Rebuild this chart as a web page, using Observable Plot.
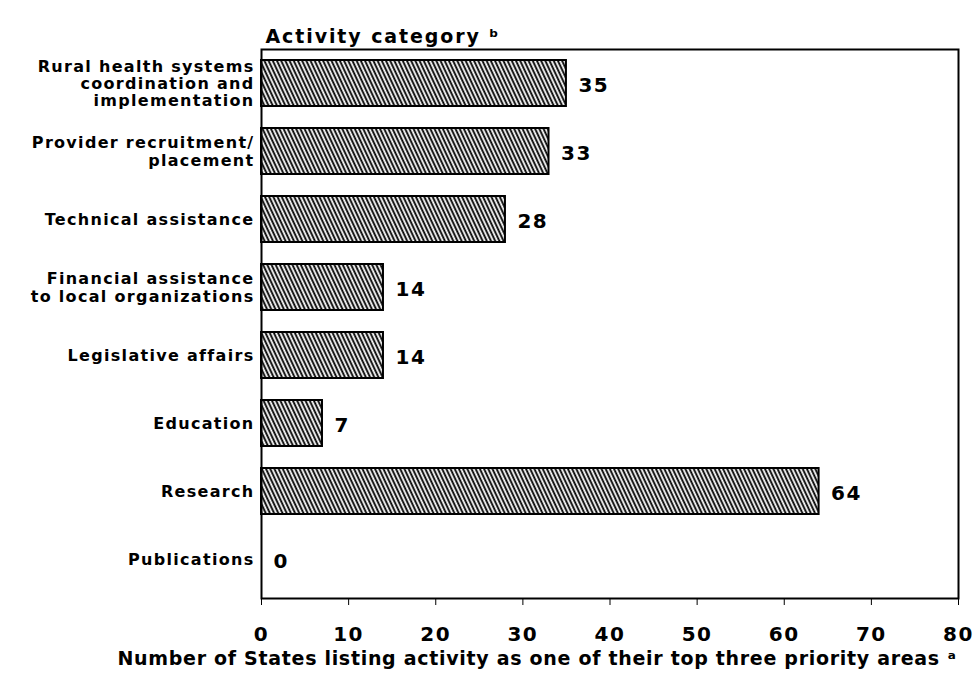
<!DOCTYPE html>
<html>
<head>
<meta charset="utf-8">
<script src="https://cdn.jsdelivr.net/npm/d3@7"></script>
<script src="https://cdn.jsdelivr.net/npm/@observablehq/plot@0.6"></script>
<style>
  body { margin: 0; background: #fff; }
</style>
</head>
<body>
<div id="chart"></div>
<script>
const categories = [
  "Rural health systems\ncoordination and\nimplementation",
  "Provider recruitment/\nplacement",
  "Technical assistance",
  "Financial assistance\nto local organizations",
  "Legislative affairs",
  "Education",
  "Research",
  "Publications"
];
const values = [35, 33, 28, 14, 14, 7, 64, 0];
const xTicks = [0, 10, 20, 30, 40, 50, 60, 70, 80];
const titleText = "Activity category ᵇ";
const xLabelText = "Number of States listing activity as one of their top three priority areas ᵃ";

const data = categories.map((c, i) => ({category: c, value: values[i]}));

const chart = Plot.plot({
  width: 975,
  height: 687,
  marginLeft: 261,
  marginRight: 17,
  marginTop: 49,
  marginBottom: 89,
  style: {fontFamily: "DejaVu Sans, sans-serif", fontWeight: "bold", color: "#000", background: "#fff"},
  x: {domain: [0, 80], ticks: xTicks, label: null},
  y: {domain: categories, range: [48, 593], paddingInner: 0.327, paddingOuter: 0.15, label: null, axis: null},
  marks: [
    Plot.barX(data, {y: "category", x: "value", fill: "white", stroke: "black", strokeWidth: 2}),
    Plot.frame({stroke: "black", strokeWidth: 2}),
    Plot.axisX({ticks: xTicks, tickSize: 7, tickPadding: 21, fontSize: 20, fontWeight: "bold", label: null}),
    Plot.text(data, {y: "category", x: 0, text: "category", textAnchor: "end", dx: -7, fontSize: 16, lineHeight: 1.08, fontWeight: "bold"}),
    Plot.text(data, {y: "category", x: "value", text: d => String(d.value), textAnchor: "start", dx: 12, dy: 2, fontSize: 20, fontWeight: "bold"}),
    Plot.text([titleText], {frameAnchor: "top-left", text: d => d, textAnchor: "start", dx: 4, dy: -20, fontSize: 19, fontWeight: "bold"}),
    Plot.text([xLabelText], {frameAnchor: "bottom", text: d => d, textAnchor: "middle", dx: -73, dy: 66, fontSize: 19, fontWeight: "bold"})
  ]
});

// letter spacing to mimic the wide lettering of the original
const svg = d3.select(chart);
const textGroups = svg.selectAll('g[aria-label="text"]').nodes();
const spacings = [1.3, 1.5, 1.9, 0.7];
textGroups.forEach((g, i) => d3.select(g).attr("letter-spacing", spacings[i] + "px"));
svg.selectAll('g[aria-label="x-axis tick label"]').attr("letter-spacing", "1.5px");

// hatch pattern
const defs = svg.insert("defs", ":first-child");
const pat = defs.append("pattern")
  .attr("id", "hatch")
  .attr("patternUnits", "userSpaceOnUse")
  .attr("width", 3.8)
  .attr("height", 10)
  .attr("patternTransform", "rotate(-25)");
pat.append("rect").attr("width", 3.8).attr("height", 10).attr("fill", "white");
pat.append("line").attr("x1", 1.2).attr("y1", 0).attr("x2", 1.2).attr("y2", 10)
  .attr("stroke", "black").attr("stroke-width", 1.9);
svg.selectAll('g[aria-label="bar"] rect').attr("fill", "url(#hatch)");

document.getElementById("chart").appendChild(chart);
</script>
</body>
</html>
